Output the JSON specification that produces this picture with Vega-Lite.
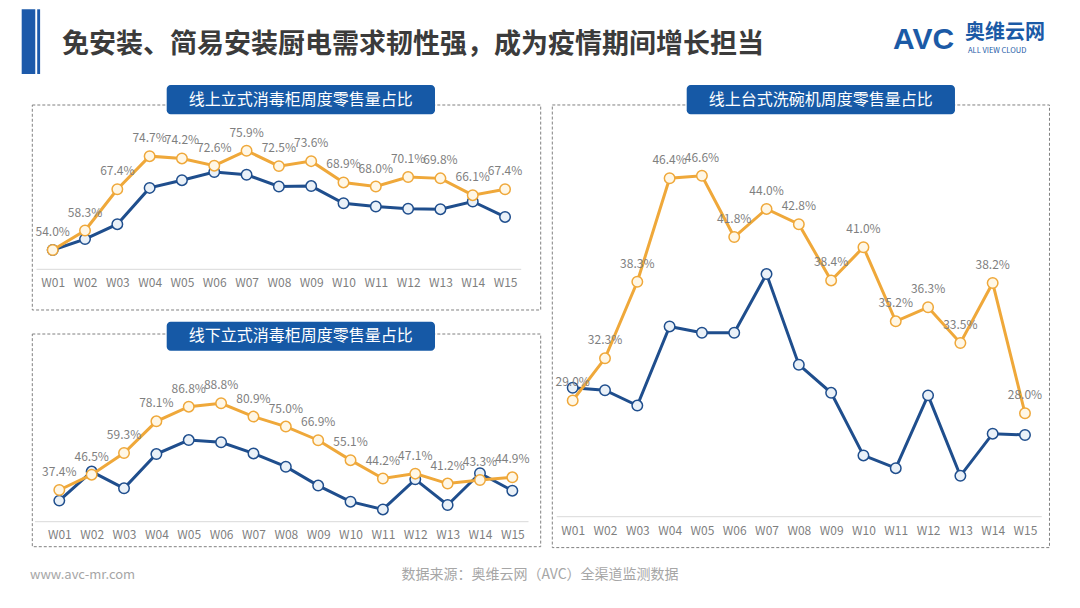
{
  "$schema": "https://vega.github.io/schema/vega-lite/v6.json",
  "width": 1080,
  "height": 608,
  "autosize": {"type": "fit", "contains": "padding"},
  "padding": 0,
  "background": "white",
  "config": {"view": {"stroke": null}, "font": "Noto Sans CJK SC"},
  "datasets": {
    "p1": [
      {"wk":1,"week":"W01","s":"A","v":0.540},{"wk":2,"week":"W02","s":"A","v":0.583},{"wk":3,"week":"W03","s":"A","v":0.674},{"wk":4,"week":"W04","s":"A","v":0.747},{"wk":5,"week":"W05","s":"A","v":0.742},{"wk":6,"week":"W06","s":"A","v":0.726},{"wk":7,"week":"W07","s":"A","v":0.759},{"wk":8,"week":"W08","s":"A","v":0.725},{"wk":9,"week":"W09","s":"A","v":0.736},{"wk":10,"week":"W10","s":"A","v":0.689},{"wk":11,"week":"W11","s":"A","v":0.680},{"wk":12,"week":"W12","s":"A","v":0.701},{"wk":13,"week":"W13","s":"A","v":0.698},{"wk":14,"week":"W14","s":"A","v":0.661},{"wk":15,"week":"W15","s":"A","v":0.674},
      {"wk":1,"week":"W01","s":"B","v":0.540},{"wk":2,"week":"W02","s":"B","v":0.564},{"wk":3,"week":"W03","s":"B","v":0.597},{"wk":4,"week":"W04","s":"B","v":0.677},{"wk":5,"week":"W05","s":"B","v":0.694},{"wk":6,"week":"W06","s":"B","v":0.712},{"wk":7,"week":"W07","s":"B","v":0.706},{"wk":8,"week":"W08","s":"B","v":0.680},{"wk":9,"week":"W09","s":"B","v":0.681},{"wk":10,"week":"W10","s":"B","v":0.643},{"wk":11,"week":"W11","s":"B","v":0.636},{"wk":12,"week":"W12","s":"B","v":0.631},{"wk":13,"week":"W13","s":"B","v":0.630},{"wk":14,"week":"W14","s":"B","v":0.647},{"wk":15,"week":"W15","s":"B","v":0.613}
    ],
    "p2": [
      {"wk":1,"week":"W01","s":"A","v":0.374},{"wk":2,"week":"W02","s":"A","v":0.465},{"wk":3,"week":"W03","s":"A","v":0.593},{"wk":4,"week":"W04","s":"A","v":0.781},{"wk":5,"week":"W05","s":"A","v":0.868},{"wk":6,"week":"W06","s":"A","v":0.888},{"wk":7,"week":"W07","s":"A","v":0.809},{"wk":8,"week":"W08","s":"A","v":0.750},{"wk":9,"week":"W09","s":"A","v":0.669},{"wk":10,"week":"W10","s":"A","v":0.551},{"wk":11,"week":"W11","s":"A","v":0.442},{"wk":12,"week":"W12","s":"A","v":0.471},{"wk":13,"week":"W13","s":"A","v":0.412},{"wk":14,"week":"W14","s":"A","v":0.433},{"wk":15,"week":"W15","s":"A","v":0.449},
      {"wk":1,"week":"W01","s":"B","v":0.311},{"wk":2,"week":"W02","s":"B","v":0.483},{"wk":3,"week":"W03","s":"B","v":0.384},{"wk":4,"week":"W04","s":"B","v":0.587},{"wk":5,"week":"W05","s":"B","v":0.670},{"wk":6,"week":"W06","s":"B","v":0.657},{"wk":7,"week":"W07","s":"B","v":0.591},{"wk":8,"week":"W08","s":"B","v":0.512},{"wk":9,"week":"W09","s":"B","v":0.400},{"wk":10,"week":"W10","s":"B","v":0.305},{"wk":11,"week":"W11","s":"B","v":0.259},{"wk":12,"week":"W12","s":"B","v":0.437},{"wk":13,"week":"W13","s":"B","v":0.285},{"wk":14,"week":"W14","s":"B","v":0.473},{"wk":15,"week":"W15","s":"B","v":0.370}
    ],
    "p3": [
      {"wk":1,"week":"W01","s":"A","v":0.290},{"wk":2,"week":"W02","s":"A","v":0.323},{"wk":3,"week":"W03","s":"A","v":0.383},{"wk":4,"week":"W04","s":"A","v":0.464},{"wk":5,"week":"W05","s":"A","v":0.466},{"wk":6,"week":"W06","s":"A","v":0.418},{"wk":7,"week":"W07","s":"A","v":0.440},{"wk":8,"week":"W08","s":"A","v":0.428},{"wk":9,"week":"W09","s":"A","v":0.384},{"wk":10,"week":"W10","s":"A","v":0.410},{"wk":11,"week":"W11","s":"A","v":0.352},{"wk":12,"week":"W12","s":"A","v":0.363},{"wk":13,"week":"W13","s":"A","v":0.335},{"wk":14,"week":"W14","s":"A","v":0.382},{"wk":15,"week":"W15","s":"A","v":0.280},
      {"wk":1,"week":"W01","s":"B","v":0.300},{"wk":2,"week":"W02","s":"B","v":0.298},{"wk":3,"week":"W03","s":"B","v":0.286},{"wk":4,"week":"W04","s":"B","v":0.348},{"wk":5,"week":"W05","s":"B","v":0.343},{"wk":6,"week":"W06","s":"B","v":0.343},{"wk":7,"week":"W07","s":"B","v":0.389},{"wk":8,"week":"W08","s":"B","v":0.318},{"wk":9,"week":"W09","s":"B","v":0.296},{"wk":10,"week":"W10","s":"B","v":0.247},{"wk":11,"week":"W11","s":"B","v":0.237},{"wk":12,"week":"W12","s":"B","v":0.294},{"wk":13,"week":"W13","s":"B","v":0.231},{"wk":14,"week":"W14","s":"B","v":0.264},{"wk":15,"week":"W15","s":"B","v":0.263}
    ]
  },
  "resolve": {"scale": {"x": "independent", "y": "independent"}, "axis": {"x": "independent", "y": "independent"}},
  "layer": [
    {
      "layer": [
        {
          "data": {"name": "p1"},
          "transform": [{"filter": "datum.s === 'B'"}],
          "mark": {"type": "line", "strokeWidth": 3, "color": "#1F4E8D"},
          "encoding": {
            "x": {"field": "wk", "type": "quantitative", "scale": {"domain": [-0.6314, 32.795], "nice": false, "zero": false},
              "axis": {"orient": "bottom", "values": [1,2,3,4,5,6,7,8,9,10,11,12,13,14,15], "tickCount": 15, "labelExpr": "'W' + (datum.value < 10 ? '0' : '') + datum.value", "ticks": false, "domain": false, "grid": false, "labelColor": "#7F7F7F", "labelFontSize": 12, "labelPadding": 8, "offset": -338.7, "title": null, "labelFlush": false, "labelOverlap": false}},
            "y": {"field": "v", "type": "quantitative", "scale": {"domain": [-0.2496, 1.0914], "nice": false, "zero": false}, "axis": null}
          }
        },
        {
          "data": {"values": [{}]},
          "mark": {"type": "rect", "fill": "transparent", "stroke": "#808080", "strokeDash": [3, 2], "strokeWidth": 1},
          "encoding": {"x": {"datum": 0.3683}, "x2": {"datum": 16.1035}, "y": {"datum": 0.4077}, "y2": {"datum": 0.8598}}
        },
        {
          "data": {"values": [{}]},
          "mark": {"type": "rule", "color": "#D9D9D9", "strokeWidth": 1},
          "encoding": {"x": {"datum": 0.5}, "x2": {"datum": 15.5}, "y": {"datum": 0.4974}}
        },
        {
          "data": {"name": "p1"},
          "transform": [{"filter": "datum.s === 'B'"}],
          "mark": {"type": "point", "shape": "circle", "size": 110, "strokeWidth": 1.5, "fill": "#EAF1F8", "stroke": "#1F4E8D", "opacity": 1, "fillOpacity": 1},
          "encoding": {"x": {"field": "wk", "type": "quantitative"}, "y": {"field": "v", "type": "quantitative"}}
        },
        {
          "data": {"name": "p1"},
          "transform": [{"filter": "datum.s === 'A'"}],
          "mark": {"type": "line", "strokeWidth": 3, "color": "#EFA83A"},
          "encoding": {"x": {"field": "wk", "type": "quantitative"}, "y": {"field": "v", "type": "quantitative"}}
        },
        {
          "data": {"name": "p1"},
          "transform": [{"filter": "datum.s === 'A'"}],
          "mark": {"type": "point", "shape": "circle", "size": 110, "strokeWidth": 1.5, "fill": "#FFF7E6", "stroke": "#EFA83A", "opacity": 1, "fillOpacity": 1},
          "encoding": {"x": {"field": "wk", "type": "quantitative"}, "y": {"field": "v", "type": "quantitative"}}
        },
        {
          "data": {"name": "p1"},
          "transform": [{"filter": "datum.s === 'A'"}],
          "mark": {"type": "text", "dy": -18, "fontSize": 12, "color": "#7F7F7F", "baseline": "middle"},
          "encoding": {"x": {"field": "wk", "type": "quantitative"}, "y": {"field": "v", "type": "quantitative"}, "text": {"field": "v", "type": "quantitative", "format": ".1%"}}
        },
        {
          "data": {"values": [{}]},
          "mark": {"type": "rect", "color": "#1659A6", "cornerRadius": 4},
          "encoding": {"x": {"datum": 4.528}, "x2": {"datum": 12.832}, "y": {"datum": 0.8393}, "y2": {"datum": 0.9039}}
        },
        {
          "data": {"values": [{}]},
          "mark": {"type": "text", "color": "white", "fontSize": 16, "baseline": "middle", "align": "center"},
          "encoding": {"x": {"datum": 8.68}, "y": {"datum": 0.8716}, "text": {"value": "线上立式消毒柜周度零售量占比"}}
        },
        {
          "data": {"values": [{}]},
          "mark": {"type": "rect", "color": "#1D5AAA"},
          "encoding": {"x": {"datum": 0.040}, "x2": {"datum": 0.46}, "y": {"datum": 0.9282}, "y2": {"datum": 1.0709}}
        },
        {
          "data": {"values": [{}]},
          "mark": {"type": "rect", "color": "#1D5AAA"},
          "encoding": {"x": {"datum": 0.52}, "x2": {"datum": 0.61}, "y": {"datum": 0.9282}, "y2": {"datum": 1.0709}}
        },
        {
          "data": {"values": [{}]},
          "mark": {"type": "text", "align": "left", "baseline": "middle", "fontSize": 27, "fontWeight": "bold", "color": "#3B3B3B"},
          "encoding": {"x": {"datum": 1.2875}, "y": {"datum": 0.9921}, "text": {"value": "免安装、简易安装厨电需求韧性强，成为疫情期间增长担当"}}
        }
      ]
    },
    {
      "layer": [
        {
          "data": {"name": "p2"},
          "transform": [{"filter": "datum.s === 'B'"}],
          "mark": {"type": "line", "strokeWidth": 3, "color": "#1F4E8D"},
          "encoding": {
            "x": {"field": "wk", "type": "quantitative", "scale": {"domain": [-0.8325, 32.542], "nice": false, "zero": false},
              "axis": {"orient": "bottom", "values": [1,2,3,4,5,6,7,8,9,10,11,12,13,14,15], "tickCount": 15, "labelExpr": "'W' + (datum.value < 10 ? '0' : '') + datum.value", "ticks": false, "domain": false, "grid": false, "labelColor": "#7F7F7F", "labelFontSize": 12, "labelPadding": 8, "offset": -86.3, "title": null, "labelFlush": false, "labelOverlap": false}},
            "y": {"field": "v", "type": "quantitative", "scale": {"domain": [-0.3255, 3.2786], "nice": false, "zero": false}, "axis": null}
          }
        },
        {
          "data": {"values": [{}]},
          "mark": {"type": "rect", "fill": "transparent", "stroke": "#808080", "strokeDash": [3, 2], "strokeWidth": 1},
          "encoding": {"x": {"datum": 0.1656}, "x2": {"datum": 15.876}, "y": {"datum": 0.0379}, "y2": {"datum": 1.2987}}
        },
        {
          "data": {"values": [{}]},
          "mark": {"type": "rule", "color": "#D9D9D9", "strokeWidth": 1},
          "encoding": {"x": {"datum": 0.25}, "x2": {"datum": 15.5}, "y": {"datum": 0.1861}}
        },
        {
          "data": {"name": "p2"},
          "transform": [{"filter": "datum.s === 'B'"}],
          "mark": {"type": "point", "shape": "circle", "size": 110, "strokeWidth": 1.5, "fill": "#EAF1F8", "stroke": "#1F4E8D", "opacity": 1, "fillOpacity": 1},
          "encoding": {"x": {"field": "wk", "type": "quantitative"}, "y": {"field": "v", "type": "quantitative"}}
        },
        {
          "data": {"name": "p2"},
          "transform": [{"filter": "datum.s === 'A'"}],
          "mark": {"type": "line", "strokeWidth": 3, "color": "#EFA83A"},
          "encoding": {"x": {"field": "wk", "type": "quantitative"}, "y": {"field": "v", "type": "quantitative"}}
        },
        {
          "data": {"name": "p2"},
          "transform": [{"filter": "datum.s === 'A'"}],
          "mark": {"type": "point", "shape": "circle", "size": 110, "strokeWidth": 1.5, "fill": "#FFF7E6", "stroke": "#EFA83A", "opacity": 1, "fillOpacity": 1},
          "encoding": {"x": {"field": "wk", "type": "quantitative"}, "y": {"field": "v", "type": "quantitative"}}
        },
        {
          "data": {"name": "p2"},
          "transform": [{"filter": "datum.s === 'A'"}],
          "mark": {"type": "text", "dy": -18, "fontSize": 12, "color": "#7F7F7F", "baseline": "middle"},
          "encoding": {"x": {"field": "wk", "type": "quantitative"}, "y": {"field": "v", "type": "quantitative"}, "text": {"field": "v", "type": "quantitative", "format": ".1%"}}
        },
        {
          "data": {"values": [{}]},
          "mark": {"type": "rect", "color": "#1659A6", "cornerRadius": 4},
          "encoding": {"x": {"datum": 4.319}, "x2": {"datum": 12.61}, "y": {"datum": 1.1997}, "y2": {"datum": 1.3716}}
        },
        {
          "data": {"values": [{}]},
          "mark": {"type": "text", "color": "white", "fontSize": 16, "baseline": "middle", "align": "center"},
          "encoding": {"x": {"datum": 8.465}, "y": {"datum": 1.2857}, "text": {"value": "线下立式消毒柜周度零售量占比"}}
        },
        {
          "data": {"values": [{}]},
          "mark": {"type": "text", "color": "#A6A6A6", "fontSize": 13, "baseline": "middle", "align": "left"},
          "encoding": {"x": {"datum": 0.0946}, "y": {"datum": -0.1299}, "text": {"value": "www.avc-mr.com"}}
        },
        {
          "data": {"values": [{}]},
          "mark": {"type": "text", "color": "#A6A6A6", "fontSize": 14, "baseline": "middle", "align": "center"},
          "encoding": {"x": {"datum": 15.855}, "y": {"datum": -0.1299}, "text": {"value": "数据来源：奥维云网（AVC）全渠道监测数据"}}
        }
      ]
    },
    {
      "layer": [
        {
          "data": {"name": "p3"},
          "transform": [{"filter": "datum.s === 'B'"}],
          "mark": {"type": "line", "strokeWidth": 3, "color": "#1F4E8D"},
          "encoding": {
            "x": {"field": "wk", "type": "quantitative", "scale": {"domain": [-16.727, 16.703], "nice": false, "zero": false},
              "axis": {"orient": "bottom", "values": [1,2,3,4,5,6,7,8,9,10,11,12,13,14,15], "tickCount": 15, "labelExpr": "'W' + (datum.value < 10 ? '0' : '') + datum.value", "ticks": false, "domain": false, "grid": false, "labelColor": "#7F7F7F", "labelFontSize": 12, "labelPadding": 9, "offset": -91.3, "title": null, "labelFlush": false, "labelOverlap": false}},
            "y": {"field": "v", "type": "quantitative", "scale": {"domain": [0.1275, 0.6036], "nice": false, "zero": false}, "axis": null}
          }
        },
        {
          "data": {"values": [{}]},
          "mark": {"type": "rect", "fill": "transparent", "stroke": "#808080", "strokeDash": [3, 2], "strokeWidth": 1},
          "encoding": {"x": {"datum": 0.3687}, "x2": {"datum": 15.758}, "y": {"datum": 0.1748}, "y2": {"datum": 0.5214}}
        },
        {
          "data": {"values": [{}]},
          "mark": {"type": "rule", "color": "#D9D9D9", "strokeWidth": 1},
          "encoding": {"x": {"datum": 0.505}, "x2": {"datum": 15.52}, "y": {"datum": 0.199}}
        },
        {
          "data": {"name": "p3"},
          "transform": [{"filter": "datum.s === 'B'"}],
          "mark": {"type": "point", "shape": "circle", "size": 110, "strokeWidth": 1.5, "fill": "#EAF1F8", "stroke": "#1F4E8D", "opacity": 1, "fillOpacity": 1},
          "encoding": {"x": {"field": "wk", "type": "quantitative"}, "y": {"field": "v", "type": "quantitative"}}
        },
        {
          "data": {"name": "p3"},
          "transform": [{"filter": "datum.s === 'A'"}],
          "mark": {"type": "line", "strokeWidth": 3, "color": "#EFA83A"},
          "encoding": {"x": {"field": "wk", "type": "quantitative"}, "y": {"field": "v", "type": "quantitative"}}
        },
        {
          "data": {"name": "p3"},
          "transform": [{"filter": "datum.s === 'A'"}],
          "mark": {"type": "point", "shape": "circle", "size": 110, "strokeWidth": 1.5, "fill": "#FFF7E6", "stroke": "#EFA83A", "opacity": 1, "fillOpacity": 1},
          "encoding": {"x": {"field": "wk", "type": "quantitative"}, "y": {"field": "v", "type": "quantitative"}}
        },
        {
          "data": {"name": "p3"},
          "transform": [{"filter": "datum.s === 'A'"}],
          "mark": {"type": "text", "dy": -18, "fontSize": 12, "color": "#7F7F7F", "baseline": "middle"},
          "encoding": {"x": {"field": "wk", "type": "quantitative"}, "y": {"field": "v", "type": "quantitative"}, "text": {"field": "v", "type": "quantitative", "format": ".1%"}}
        },
        {
          "data": {"values": [{}]},
          "mark": {"type": "rect", "color": "#1659A6", "cornerRadius": 4},
          "encoding": {"x": {"datum": 4.529}, "x2": {"datum": 12.833}, "y": {"datum": 0.5141}, "y2": {"datum": 0.5371}}
        },
        {
          "data": {"values": [{}]},
          "mark": {"type": "text", "color": "white", "fontSize": 16, "baseline": "middle", "align": "center"},
          "encoding": {"x": {"datum": 8.681}, "y": {"datum": 0.5256}, "text": {"value": "线上台式洗碗机周度零售量占比"}}
        },
        {
          "data": {"values": [{}]},
          "mark": {"type": "text", "color": "#1B5AA6", "fontSize": 30, "fontWeight": "bold", "baseline": "middle", "align": "left", "font": "Liberation Sans"},
          "encoding": {"x": {"datum": 10.914}, "y": {"datum": 0.5723}, "text": {"value": "AVC"}}
        },
        {
          "data": {"values": [{}]},
          "mark": {"type": "text", "color": "#1B5AA6", "fontSize": 20, "fontWeight": "bold", "baseline": "middle", "align": "left"},
          "encoding": {"x": {"datum": 13.143}, "y": {"datum": 0.5775}, "text": {"value": "奥维云网"}}
        },
        {
          "data": {"values": [{}]},
          "mark": {"type": "text", "color": "#1B5AA6", "fontSize": 7.5, "baseline": "middle", "align": "left"},
          "encoding": {"x": {"datum": 13.236}, "y": {"datum": 0.5635}, "text": {"value": "ALL VIEW CLOUD"}}
        }
      ]
    }
  ]
}
